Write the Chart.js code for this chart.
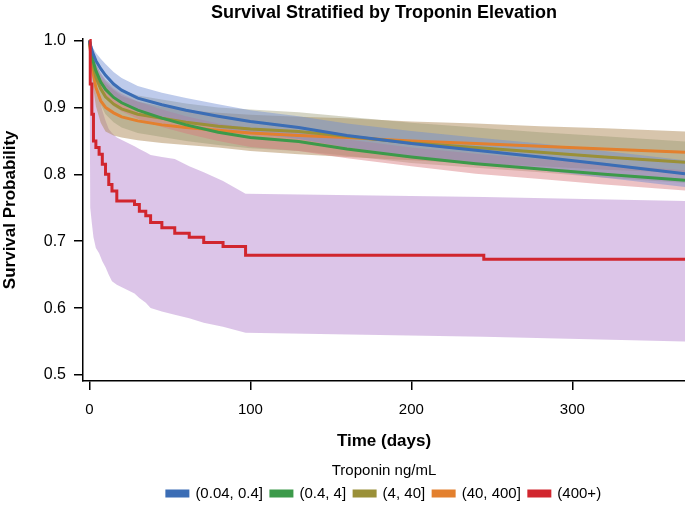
<!DOCTYPE html>
<html>
<head>
<meta charset="utf-8">
<script src="https://cdn.jsdelivr.net/npm/chart.js@4.4.1/dist/chart.umd.min.js"></script>
<style>
  html, body { margin: 0; padding: 0; background: #fff; }
  #wrap { width: 685px; height: 506px; }
</style>
</head>
<body>
<div id="wrap"><canvas id="km"></canvas></div>
<script>
// time points (days) for the four larger groups
const days = [0, 1, 2, 4, 7, 10, 15, 20, 30, 45, 60, 80, 100, 130, 160, 200, 240, 280, 320, 370];

const survLow = [1.0, 0.99, 0.982, 0.97, 0.958, 0.948, 0.935, 0.926, 0.914, 0.904, 0.896, 0.887, 0.879, 0.870, 0.858, 0.846, 0.836, 0.826, 0.815, 0.801];
const survMid = [1.0, 0.985, 0.972, 0.955, 0.938, 0.927, 0.915, 0.907, 0.896, 0.884, 0.874, 0.863, 0.855, 0.849, 0.838, 0.826, 0.816, 0.808, 0.800, 0.791];
const survHigh = [1.0, 0.98, 0.965, 0.945, 0.928, 0.916, 0.905, 0.898, 0.890, 0.884, 0.878, 0.872, 0.868, 0.864, 0.857, 0.847, 0.840, 0.833, 0.826, 0.818];
const survVeryHigh = [1.0, 0.975, 0.955, 0.93, 0.91, 0.90, 0.892, 0.886, 0.880, 0.874, 0.870, 0.866, 0.862, 0.858, 0.855, 0.850, 0.846, 0.842, 0.838, 0.833];

// half width of the confidence band
const ciLow = [0, 0.005, 0.008, 0.012, 0.015, 0.017, 0.018, 0.018, 0.018, 0.018, 0.018, 0.018, 0.017, 0.017, 0.018, 0.019, 0.019, 0.02, 0.02, 0.02];
const ciMid = [0, 0.006, 0.009, 0.011, 0.012, 0.013, 0.013, 0.013, 0.013, 0.013, 0.013, 0.013, 0.014, 0.014, 0.014, 0.014, 0.015, 0.015, 0.015, 0.015];
const ciHigh = [0, 0.01, 0.015, 0.02, 0.024, 0.026, 0.027, 0.028, 0.028, 0.028, 0.028, 0.028, 0.029, 0.029, 0.029, 0.03, 0.03, 0.03, 0.031, 0.031];
const ciVeryHigh = [0, 0.012, 0.02, 0.028, 0.033, 0.036, 0.034, 0.031, 0.029, 0.027, 0.026, 0.026, 0.027, 0.028, 0.029, 0.029, 0.03, 0.03, 0.031, 0.031];

// (400+) group, step curve
const daysTop = [0, 0.5, 1.5, 2.5, 4, 6, 8, 10, 12, 14, 17, 28, 31, 35, 38, 45, 53, 62, 71, 83, 97, 245, 370];
const survTop = [1.0, 0.935, 0.89, 0.85, 0.84, 0.83, 0.815, 0.80, 0.785, 0.775, 0.76, 0.755, 0.745, 0.738, 0.728, 0.72, 0.712, 0.706, 0.698, 0.692, 0.679, 0.673, 0.673];
const upperTop = [1.0, 1.0, 0.98, 0.95, 0.93, 0.915, 0.895, 0.88, 0.868, 0.862, 0.855, 0.842, 0.838, 0.833, 0.829, 0.826, 0.823, 0.812, 0.803, 0.79, 0.771, 0.766, 0.76];
const lowerTop = [1.0, 0.75, 0.727, 0.706, 0.69, 0.682, 0.67, 0.661, 0.65, 0.64, 0.635, 0.622, 0.615, 0.608, 0.60, 0.595, 0.59, 0.585, 0.578, 0.572, 0.563, 0.557, 0.55];

const groups = ["(0.04, 0.4]", "(0.4, 4]", "(4, 40]", "(40, 400]", "(400+)"];
const lineColors = ["#3b6db5", "#3c9a4a", "#9a9038", "#e3802e", "#d1262e"];
const bandColors = [
    "rgba(110,140,210,0.45)",
    "rgba(215,120,125,0.45)",
    "rgba(150,150,110,0.40)",
    "rgba(175,140,90,0.50)",
    "rgba(185,140,210,0.50)"
];

const xTicks = [0, 100, 200, 300];
const yTicks = [0.5, 0.6, 0.7, 0.8, 0.9, 1.0];

function toPoints(xs, ys) {
    return xs.map((x, i) => ({ x: x, y: ys[i] }));
}

function shift(ys, ci, sign) {
    return ys.map((y, i) => y + sign * ci[i]);
}

function bandSet(label, pts, color, fill) {
    return {
        label: label,
        data: pts,
        borderColor: "transparent",
        backgroundColor: color,
        borderWidth: 0,
        pointRadius: 0,
        fill: fill
    };
}

const survList = [survLow, survMid, survHigh, survVeryHigh];
const ciList = [ciLow, ciMid, ciHigh, ciVeryHigh];

const lines = [];
const bands = [];

survList.forEach((s, i) => {
    lines.push({
        label: groups[i],
        data: toPoints(days, s),
        borderColor: lineColors[i],
        backgroundColor: lineColors[i],
        borderWidth: 3,
        pointRadius: 0,
        fill: false
    });
    bands.push(bandSet(groups[i] + " upper", toPoints(days, shift(s, ciList[i], 1)), bandColors[i], "+1"));
    bands.push(bandSet(groups[i] + " lower", toPoints(days, shift(s, ciList[i], -1)), bandColors[i], false));
});

lines.push({
    label: groups[4],
    data: toPoints(daysTop, survTop),
    borderColor: lineColors[4],
    backgroundColor: lineColors[4],
    borderWidth: 3,
    pointRadius: 0,
    stepped: "before",
    fill: false,
    order: -1
});
bands.push(bandSet(groups[4] + " upper", toPoints(daysTop, upperTop), bandColors[4], "+1"));
bands.push(bandSet(groups[4] + " lower", toPoints(daysTop, lowerTop), bandColors[4], false));

const font = "'Liberation Sans', Arial, sans-serif";

new Chart(document.getElementById("km"), {
    type: "line",
    data: { datasets: lines.concat(bands) },
    options: {
        animation: false,
        responsive: true,
        maintainAspectRatio: false,
        devicePixelRatio: 1,
        layout: { padding: { left: 0, right: 0, top: 0, bottom: -5 } },
        scales: {
            x: {
                type: "linear",
                min: -4,
                max: 370,
                afterBuildTicks: scale => { scale.ticks = xTicks.map(v => ({ value: v })); },
                afterFit: scale => { scale.height = 82.5; },
                ticks: { color: "#000", font: { family: font, size: 15 }, padding: 11, maxRotation: 0 },
                grid: { drawOnChartArea: false, tickLength: 9, color: "#000", lineWidth: 1.5 },
                border: { color: "#000", width: 1.5 },
                title: {
                    display: true,
                    text: "Time (days)",
                    color: "#000",
                    font: { family: font, size: 17, weight: "bold" },
                    padding: { top: 12, bottom: 12 }
                }
            },
            y: {
                min: 0.491,
                max: 1.003,
                afterBuildTicks: scale => { scale.ticks = yTicks.map(v => ({ value: v })); },
                afterFit: scale => { scale.width = 83; },
                ticks: { color: "#000", font: { family: font, size: 16 }, padding: 8, callback: v => v.toFixed(1) },
                grid: { drawOnChartArea: false, tickLength: 9, color: "#000", lineWidth: 1.5 },
                border: { color: "#000", width: 1.5 },
                title: {
                    display: true,
                    text: "Survival Probability",
                    color: "#000",
                    font: { family: font, size: 17, weight: "bold" },
                    padding: 0
                }
            }
        },
        plugins: {
            title: {
                display: true,
                text: "Survival Stratified by Troponin Elevation",
                color: "#000",
                fullSize: false,
                font: { family: font, size: 18, weight: "bold" },
                padding: { top: 2, bottom: 15 }
            },
            legend: {
                position: "bottom",
                fullSize: false,
                labels: {
                    color: "#000",
                    font: { family: font, size: 15 },
                    boxWidth: 21,
                    boxHeight: 5,
                    padding: 8,
                    filter: item => item.datasetIndex < 5,
                    sort: (a, b) => a.datasetIndex - b.datasetIndex
                },
                title: {
                    display: true,
                    text: "Troponin ng/mL",
                    color: "#000",
                    font: { family: font, size: 15 },
                    padding: { top: 0, bottom: -3.5 }
                }
            },
            tooltip: { enabled: false }
        }
    }
});
</script>
</body>
</html>
